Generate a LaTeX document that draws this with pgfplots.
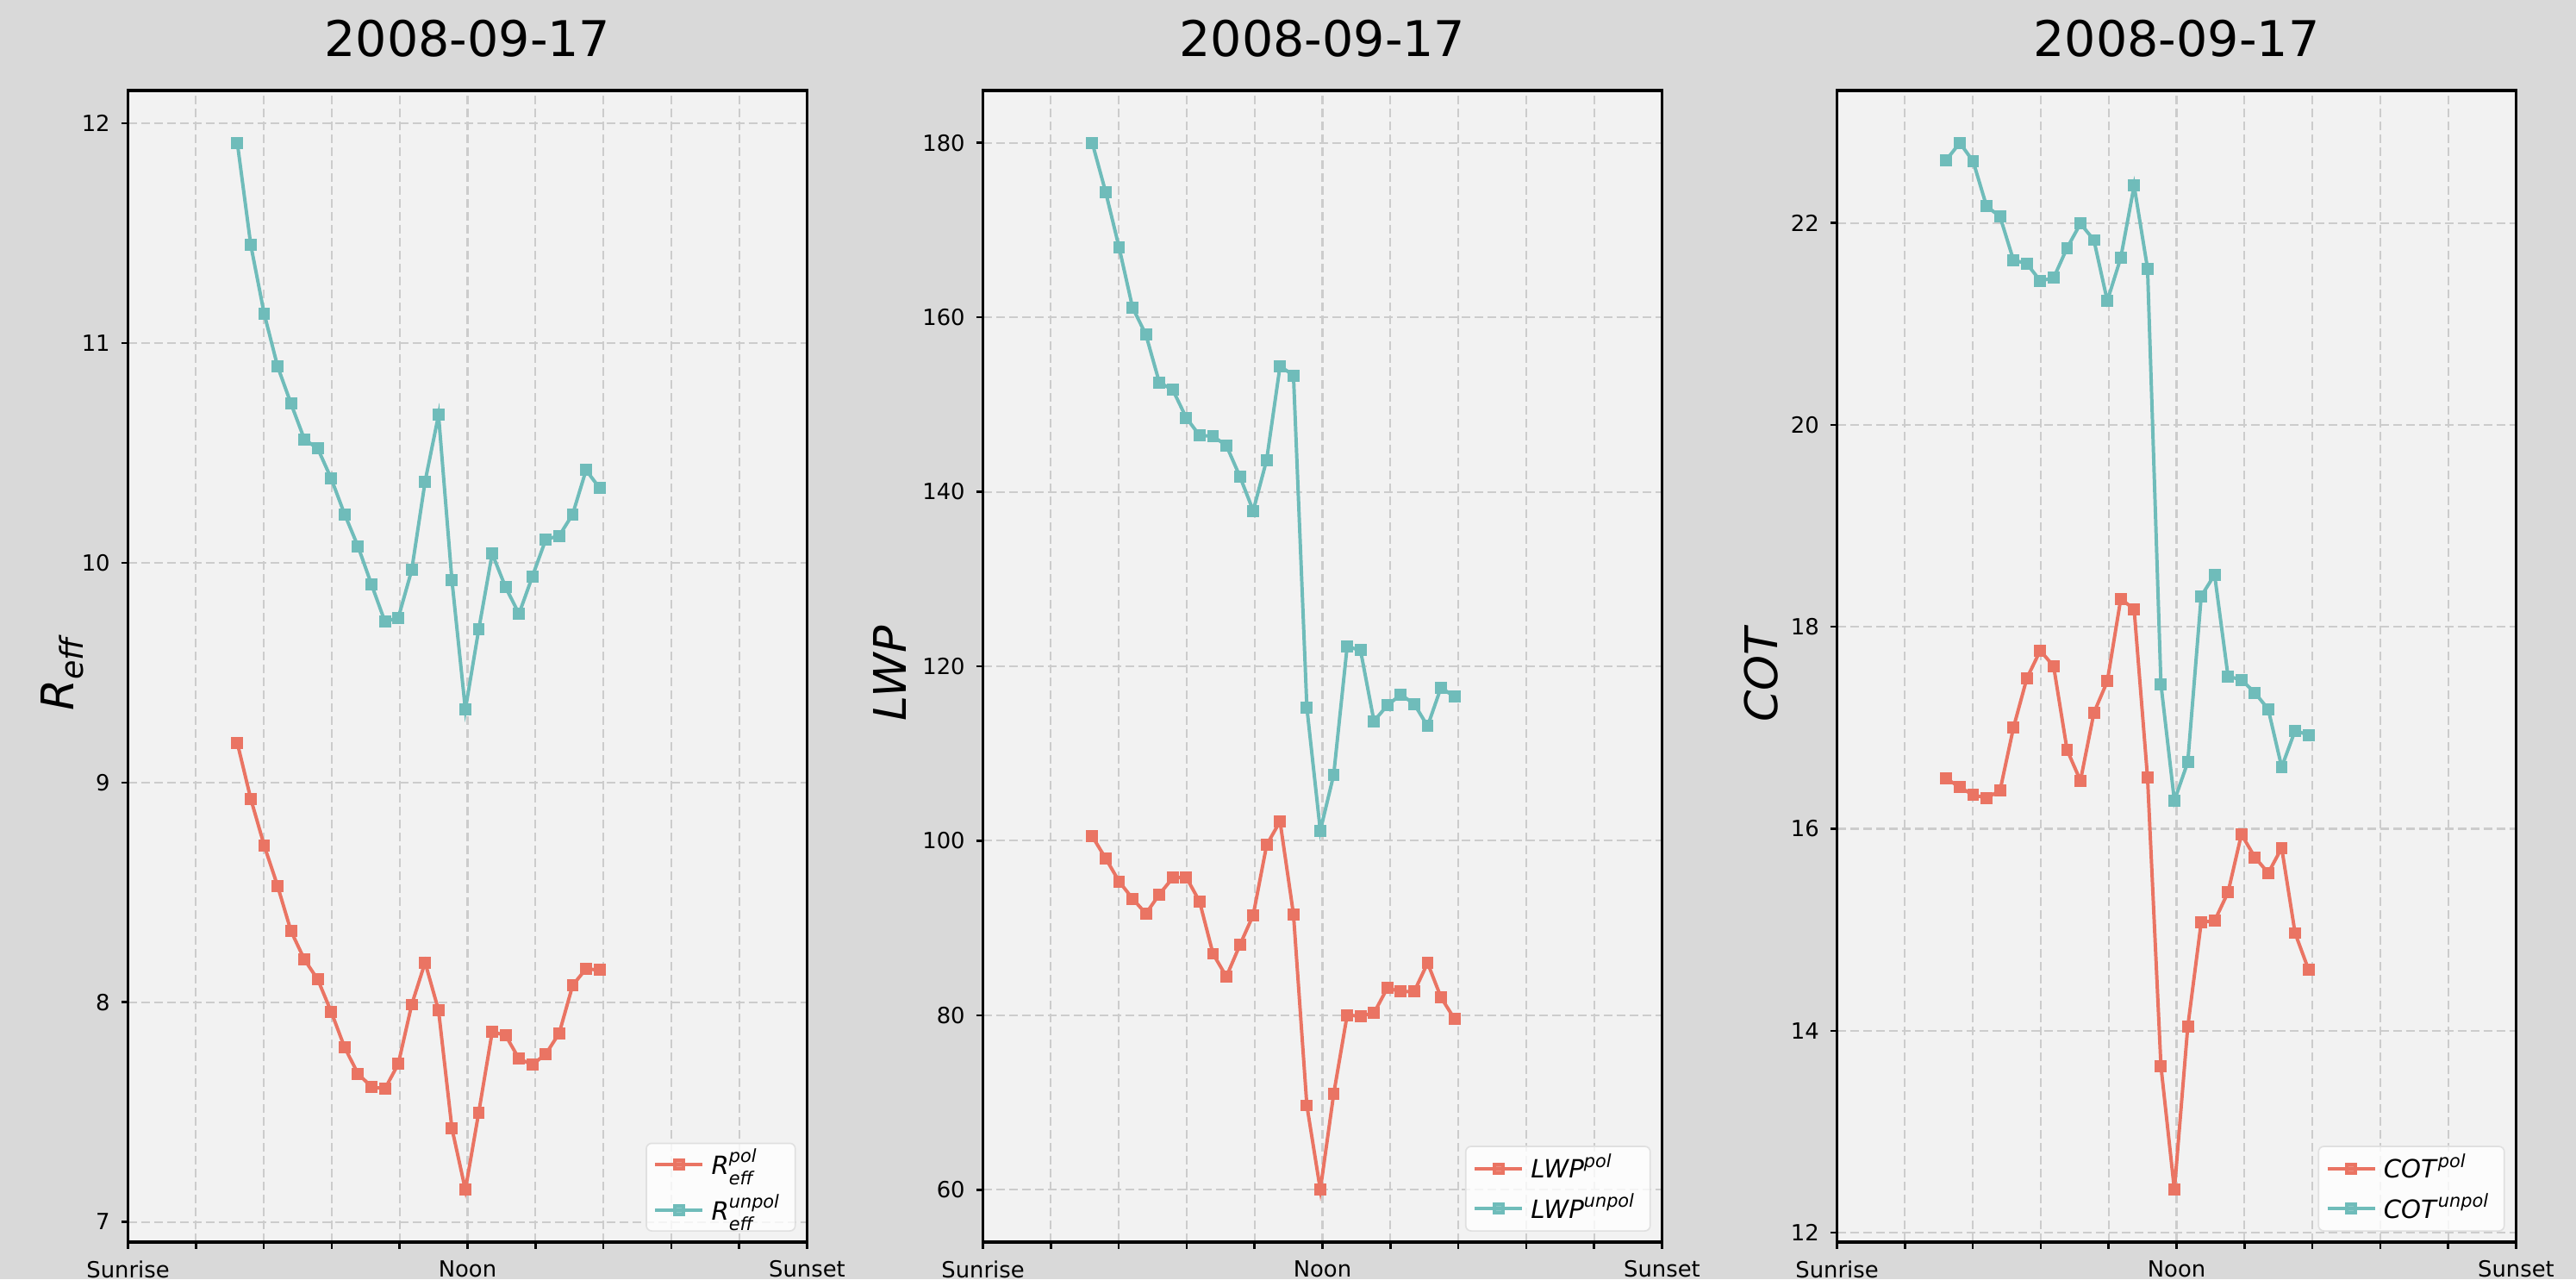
\documentclass[border=0pt]{standalone}
\usepackage{fontspec}
\setmainfont{DejaVu Sans}
\setsansfont{DejaVu Sans}
\usepackage{amsmath}
\usepackage{pgfplots}
\usepackage{pgfplotstable}
\pgfplotsset{compat=1.18}
\definecolor{figbg}{RGB}{217,217,217}
\definecolor{axbg}{RGB}{242,242,242}
\definecolor{gridc}{RGB}{204,204,204}
\definecolor{cred}{RGB}{234,116,99}
\definecolor{ccyan}{RGB}{111,188,186}

\pgfplotstableread{
x pol unpol
1.610 9.180 11.912
1.808 8.926 11.447
2.005 8.714 11.135
2.203 8.529 10.894
2.400 8.324 10.725
2.598 8.194 10.562
2.795 8.103 10.520
2.993 7.956 10.383
3.190 7.794 10.221
3.388 7.674 10.074
3.585 7.615 9.902
3.783 7.605 9.733
3.980 7.719 9.749
4.178 7.989 9.967
4.375 8.181 10.370
4.573 7.963 10.673
4.770 7.426 9.921
4.968 7.146 9.332
5.165 7.498 9.697
5.363 7.865 10.042
5.560 7.849 9.889
5.758 7.742 9.768
5.955 7.716 9.938
6.153 7.764 10.107
6.350 7.859 10.123
6.548 8.077 10.221
6.745 8.152 10.422
6.943 8.146 10.341
}\dataR

\pgfplotstableread{
x pol unpol
1.610 100.51 180.00
1.808 97.97 174.34
2.005 95.34 168.02
2.203 93.37 161.13
2.400 91.65 158.01
2.598 93.86 152.52
2.795 95.75 151.70
2.993 95.83 148.50
3.190 93.04 146.45
3.388 87.05 146.37
3.585 84.43 145.30
3.783 88.04 141.77
3.980 91.48 137.83
4.178 99.52 143.66
4.375 102.23 154.41
4.573 91.57 153.34
4.770 69.66 115.27
4.968 60.00 101.16
5.165 70.98 107.56
5.363 80.00 122.25
5.560 79.92 121.84
5.758 80.25 113.72
5.955 83.12 115.52
6.153 82.71 116.75
6.350 82.71 115.69
6.548 85.99 113.14
6.745 82.05 117.57
6.943 79.59 116.50
}\dataL

\pgfplotstableread{
x pol unpol
1.610 16.497 22.623
1.808 16.412 22.793
2.005 16.334 22.609
2.203 16.306 22.163
2.400 16.377 22.064
2.598 17.000 21.632
2.795 17.489 21.596
2.993 17.765 21.426
3.190 17.609 21.455
3.388 16.780 21.752
3.585 16.476 21.993
3.783 17.149 21.830
3.980 17.460 21.228
4.178 18.275 21.653
4.375 18.176 22.368
4.573 16.504 21.547
4.770 13.650 17.432
4.968 12.425 16.278
5.165 14.040 16.660
5.363 15.074 18.303
5.560 15.088 18.516
5.758 15.371 17.510
5.955 15.945 17.475
6.153 15.718 17.347
6.350 15.562 17.184
6.548 15.810 16.610
6.745 14.967 16.972
6.943 14.606 16.929
}\dataC

\pgfplotsset{
  panel/.style={
    scale only axis, width=189.12pt, height=320.64pt, anchor=south west,
    xmin=0, xmax=10, xtick={0,1,...,10},
    xticklabels={Sunrise,,,,,Noon,,,,,Sunset},
    axis background/.style={fill=axbg},
    axis line style={black, line width=0.8pt},
    grid=major,
    major grid style={gridc, line width=0.5pt, dash pattern=on 2.4pt off 1.2pt},
    tick align=outside, major tick length=1.9pt,
    xtick pos=left, ytick pos=left,
    every tick/.style={black, line width=0.6pt},
    tick label style={font=\fontsize{6.2}{7}\selectfont},
    /pgf/number format/assume math mode=true,
    yticklabel style={inner sep=0pt, xshift=-2.9pt},
    xticklabel style={inner sep=0pt, yshift=-3.1pt},
    title style={font=\fontsize{13.7}{16}\selectfont, at={(0.5,1)}, anchor=base, yshift=3.4pt, inner sep=0pt},
    ylabel style={font=\fontsize{12.5}{15}\selectfont, at={(axis description cs:0,0.5)}, anchor=base, inner sep=0pt, xshift=-2pt},
    legend style={at={(1,0)}, anchor=south east, xshift=-3.1pt, yshift=2.9pt,
      fill=white, fill opacity=0.8, text opacity=1, draw=black!12,
      rounded corners=1.5pt, font=\fontsize{7}{8}\selectfont,
      inner xsep=2pt, inner ysep=1.5pt, row sep=1.9pt,
      nodes={inner xsep=2pt, inner ysep=0.5pt}},
    legend cell align=left,
    legend image code/.code={\draw[#1, mark repeat=2, mark phase=2] plot coordinates {(0pt,0pt) (6.6pt,0pt) (13.2pt,0pt)};},
    title={2008-09-17},
  },
  redl/.style={cred, line width=0.95pt, mark=square*, mark size=1.2pt, mark options={solid, fill=cred}},
  cyanl/.style={ccyan, line width=0.95pt, mark=square*, mark size=1.2pt, mark options={solid, fill=ccyan}},
}

\begin{document}
\begin{tikzpicture}
\useasboundingbox (0,0) rectangle (717.36pt,356.16pt);
\fill[figbg] (0,0) rectangle (717.36pt,356.16pt);

\begin{axis}[panel, at={(35.64pt,10.32pt)},
  ymin=6.908, ymax=12.150, ytick={7,8,9,10,11,12},
  ylabel={$\textit{R}_{\textit{eff}}$}, ylabel style={yshift=15.1pt},
  legend style={row sep=2.9pt, inner ysep=1pt}]
\addplot[redl] table[x=x,y=pol] {\dataR};
\addlegendentry{$\textit{R}^{\textit{pol}}_{\textit{eff}}$}
\addplot[cyanl] table[x=x,y=unpol] {\dataR};
\addlegendentry{$\textit{R}^{\textit{unpol}}_{\textit{eff}}$}
\end{axis}

\begin{axis}[panel, at={(273.72pt,10.32pt)},
  ymin=54, ymax=186, ytick={60,80,100,120,140,160,180},
  ylabel={\textit{LWP}}, ylabel style={yshift=21.4pt}]
\addplot[redl] table[x=x,y=pol] {\dataL};
\addlegendentry{\textit{LWP}$^{\textit{pol}}$}
\addplot[cyanl] table[x=x,y=unpol] {\dataL};
\addlegendentry{\textit{LWP}$^{\textit{unpol}}$}
\end{axis}

\begin{axis}[panel, at={(511.56pt,10.32pt)},
  ymin=11.907, ymax=23.311, ytick={12,14,16,18,20,22},
  ylabel={\textit{COT}}, ylabel style={yshift=16.6pt}]
\addplot[redl] table[x=x,y=pol] {\dataC};
\addlegendentry{\textit{COT}$^{\textit{pol}}$}
\addplot[cyanl] table[x=x,y=unpol] {\dataC};
\addlegendentry{\textit{COT}$^{\textit{unpol}}$}
\end{axis}
\end{tikzpicture}
\end{document}
